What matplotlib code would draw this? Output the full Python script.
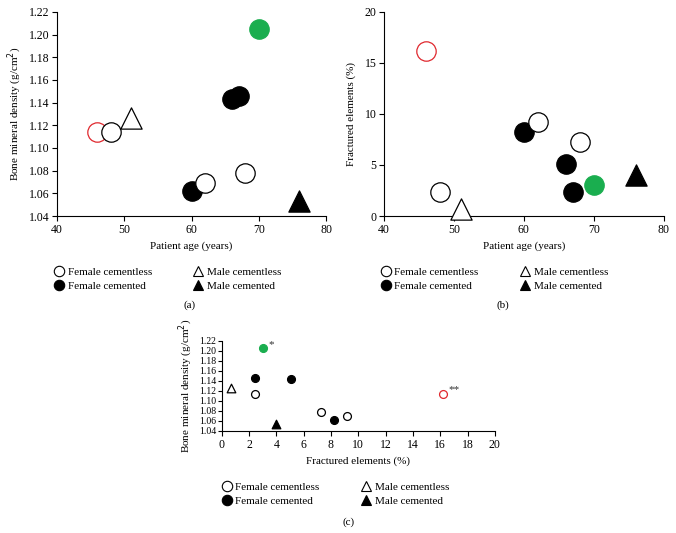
import numpy as np
import matplotlib.pyplot as plt
from matplotlib.lines import Line2D

plt.rcParams['font.family'] = ['Liberation Serif', 'DejaVu Serif']
plt.rcParams['font.size'] = 8

# one entry per patient
age = [46, 48, 51, 60, 62, 66, 67, 68, 70, 76]
bmd = [1.114, 1.114, 1.126, 1.062, 1.069, 1.143, 1.146, 1.078, 1.205, 1.053]
fractured = [16.2, 2.4, 0.7, 8.2, 9.2, 5.1, 2.4, 7.3, 3.0, 4.0]
group = ['fcl', 'fcl', 'mcl', 'fc', 'fcl', 'fc', 'fc', 'fcl', 'fc', 'mc']
highlight = ['red', None, None, None, None, None, None, None, 'green', None]
star = ['**', '', '', '', '', '', '', '', '*', '']

legend_labels = ['Female cementless', 'Female cemented', 'Male cementless', 'Male cemented']
legend_groups = ['fcl', 'fc', 'mcl', 'mc']

red = '#e0282e'
green = '#1aae4f'


def style(g, hl):
    marker = 'o' if g in ('fcl', 'fc') else '^'
    filled = g in ('fc', 'mc')
    if hl == 'red':
        return marker, 'white', red
    if hl == 'green':
        return marker, green, green
    if filled:
        return marker, 'black', 'black'
    return marker, 'white', 'black'


def scatter(ax, x, y, s):
    for xi, yi, g, hl in zip(x, y, group, highlight):
        m, fc, ec = style(g, hl)
        size = s * 1.2 if m == '^' else s
        ax.scatter(xi, yi, s=size, marker=m, facecolor=fc, edgecolor=ec,
                   linewidth=0.9, zorder=3, clip_on=False)


def axes_style(ax):
    for sp in ['top', 'right']:
        ax.spines[sp].set_visible(False)
    for sp in ['left', 'bottom']:
        ax.spines[sp].set_linewidth(0.8)
    ax.tick_params(direction='out', length=3.5, width=0.8, labelsize=8.5, pad=2)


def legend(ax, anchor):
    handles = []
    for g in legend_groups:
        m, fc, ec = style(g, None)
        handles.append(Line2D([], [], linestyle='none', marker=m, markersize=7.5,
                              markerfacecolor=fc, markeredgecolor=ec, markeredgewidth=0.8))
    ax.legend(handles, legend_labels, ncol=2, loc='upper left', bbox_to_anchor=anchor,
              frameon=False, fontsize=8, handletextpad=0.3, columnspacing=3.65,
              labelspacing=0.35, borderaxespad=0, handlelength=1.0)


fig = plt.figure(figsize=(6.76, 5.33), dpi=100)

# (a)
ax1 = fig.add_axes([0.0843, 0.5947, 0.398, 0.383])
scatter(ax1, age, bmd, 195)
ax1.set_xlim(40, 80)
ax1.set_ylim(1.04, 1.22)
ax1.set_xticks(np.arange(40, 81, 10))
ax1.set_yticks(np.arange(1.04, 1.2201, 0.02))
ax1.yaxis.set_major_formatter(plt.FormatStrFormatter('%.2f'))
ax1.set_xlabel('Patient age (years)', labelpad=4)
ax1.set_ylabel('Bone mineral density (g/cm$^2$)', labelpad=3)
axes_style(ax1)
legend(ax1, (-0.03, -0.23))

# (b)
ax2 = fig.add_axes([0.568, 0.5947, 0.414, 0.383])
scatter(ax2, age, fractured, 195)
ax2.set_xlim(40, 80)
ax2.set_ylim(0, 20)
ax2.set_xticks(np.arange(40, 81, 10))
ax2.set_yticks(np.arange(0, 21, 5))
ax2.set_xlabel('Patient age (years)', labelpad=4)
ax2.set_ylabel('Fractured elements (%)', labelpad=6)
axes_style(ax2)
legend(ax2, (-0.03, -0.23))

# (c)
ax3 = fig.add_axes([0.328, 0.1914, 0.404, 0.169])
scatter(ax3, fractured, bmd, 32)
for xi, yi, t in zip(fractured, bmd, star):
    if t:
        ax3.annotate(t, (xi, yi), xytext=(4, 1), textcoords='offset points',
                     fontsize=8, color='#333333')
ax3.set_xlim(0, 20)
ax3.set_ylim(1.04, 1.22)
ax3.set_xticks(np.arange(0, 21, 2))
ax3.set_yticks(np.arange(1.04, 1.2201, 0.02))
ax3.yaxis.set_major_formatter(plt.FormatStrFormatter('%.2f'))
ax3.set_xlabel('Fractured elements (%)', labelpad=4)
ax3.set_ylabel('Bone mineral density (g/cm$^2$)', labelpad=3)
axes_style(ax3)
ax3.tick_params(axis='y', length=3, pad=1, labelsize=7)
legend(ax3, (-0.019, -0.52))

fig.text(0.281, 1 - 305 / 533, '(a)', ha='center', va='center', fontsize=8)
fig.text(0.744, 1 - 305 / 533, '(b)', ha='center', va='center', fontsize=8)
fig.text(0.515, 1 - 522 / 533, '(c)', ha='center', va='center', fontsize=8)

fig.savefig('out.png', dpi=100)
